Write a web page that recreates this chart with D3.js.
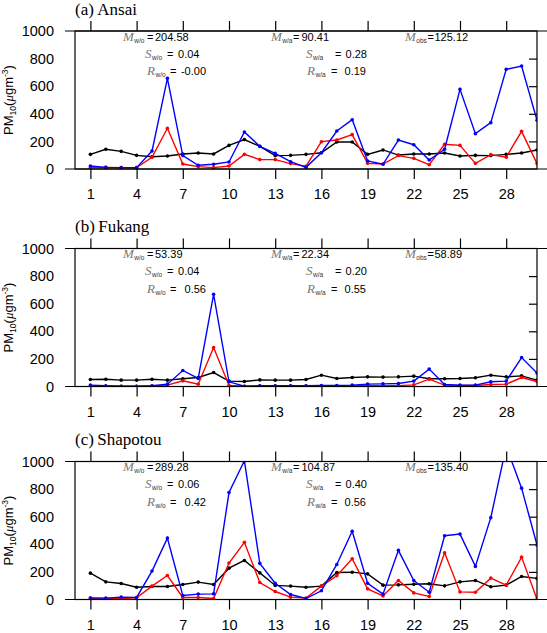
<!DOCTYPE html>
<html>
<head>
<meta charset="utf-8">
<script src="https://cdn.jsdelivr.net/npm/d3@7/dist/d3.min.js"></script>
<style>
body { margin: 0; background: #fff; }
svg text { font-family: "Liberation Sans", Arial, Helvetica, sans-serif; }
</style>
</head>
<body>
<svg id="chart" width="547" height="633"></svg>
<script>
// days of the month (x categories) and tick values
var days = [1,2,3,4,5,6,7,8,9,10,11,12,13,14,15,16,17,18,19,20,21,22,23,24,25,26,27,28,29,30];
var xTicks = [1,4,7,10,13,16,19,22,25,28];
var yTicks = [0,200,400,600,800,1000];
var yInnerTicks = [200,400,600,800];

// (a) Ansai
var ansaiObs = [106,143,128,99,89,94,109,116,109,171,213,164,97,99,106,118,196,196,106,138,101,109,109,116,94,99,97,106,116,138];
var ansaiWO  = [22,12,10,10,130,657,97,27,34,51,268,164,113,53,12,118,275,357,58,34,210,176,65,143,577,256,336,722,746,353];
var ansaiWA  = [10,12,10,10,85,295,36,17,10,22,106,68,68,39,20,198,210,249,41,36,97,77,31,179,171,41,104,85,273,39];
var ansaiStats = ["204.58","0.04","-0.00","90.41","0.28","0.19","125.12"];

// (b) Fukang
var fukangObs = [51,53,46,46,53,46,56,65,101,39,36,48,46,46,51,82,58,65,70,68,70,75,56,56,58,63,82,70,77,46];
var fukangWO  = [10,5,2,2,5,17,116,58,668,34,2,5,5,5,5,7,7,10,17,19,22,39,126,14,10,10,34,39,210,97];
var fukangWA  = [2,2,2,2,3,10,41,17,282,8,2,3,3,3,4,4,4,5,5,5,6,12,53,10,7,7,14,17,65,36];
var fukangStats = ["53.39","0.04","0.56","22.34","0.20","0.55","58.89"];

// (c) Shapotou
var shapotouObs = [191,128,116,89,94,94,109,126,109,227,283,193,102,97,89,97,196,198,186,104,106,111,114,99,128,138,92,104,167,153];
var shapotouWO  = [12,10,17,15,206,445,29,39,41,775,1005,262,118,36,7,63,254,494,118,39,356,138,53,462,474,240,593,1110,807,395];
var shapotouWA  = [7,7,7,12,97,174,15,15,7,264,414,123,58,17,10,97,172,295,77,26,138,48,22,339,55,53,155,104,307,2];
var shapotouStats = ["289.28","0.06","0.42","104.87","0.40","0.56","135.40"];

var panels = [
	{ title: "(a)\u2009Ansai", top: 31, obs: ansaiObs, wo: ansaiWO, wa: ansaiWA, stats: ansaiStats },
	{ title: "(b)\u2009Fukang", top: 248.5, obs: fukangObs, wo: fukangWO, wa: fukangWA, stats: fukangStats },
	{ title: "(c)\u2009Shapotou", top: 461.5, obs: shapotouObs, wo: shapotouWO, wa: shapotouWA, stats: shapotouStats }
];

var svg = d3.select('#chart'),
	left = 75,
	right = 537,
	plotH = 138;

var x = d3.scaleLinear().domain([0, 30]).range([left, right]);

panels.forEach(function(p, i) {
	drawPanel(p, i);
});

function drawPanel(p, i) {
	var top = p.top,
		bottom = top + plotH,
		g = svg.append('g').attr('class', 'panel');

	var y = d3.scaleLinear().domain([0, 1000]).range([bottom, top]);

	// clip so the off-scale peaks get cut at the frame
	svg.append('clipPath').attr('id', 'clip' + i)
		.append('rect')
		.attr('x', left).attr('y', top)
		.attr('width', right - left).attr('height', plotH);

	// title
	g.append('text')
		.attr('x', left)
		.attr('y', top - 16.5)
		.style('font-family', '"Liberation Serif", "Times New Roman", serif')
		.style('font-size', '17px')
		.text(p.title);

	// y axis title
	var yt = g.append('text')
		.attr('transform', 'translate(13,' + (top + plotH / 2) + ') rotate(-90)')
		.attr('text-anchor', 'middle')
		.style('font-size', '13px');
	yt.append('tspan').text('PM');
	yt.append('tspan').attr('dy', 3).style('font-size', '8.5px').text('10');
	yt.append('tspan').attr('dy', -3).text('(');
	yt.append('tspan').style('font-family', '"Liberation Serif", serif').style('font-style', 'italic').text('\u03bc');
	yt.append('tspan').text('gm');
	yt.append('tspan').attr('dy', -5).style('font-size', '8.5px').text('-3');
	yt.append('tspan').attr('dy', 5).text(')');

	// left labels
	var yAxis = g.append('g')
		.attr('transform', 'translate(' + left + ',0)')
		.call(d3.axisLeft(y).tickValues(yTicks).tickSize(0).tickPadding(21).tickFormat(d3.format('d')));
	yAxis.select('.domain').remove();
	yAxis.selectAll('text').style('font-size', '14.5px').style('font-family', '"Liberation Sans", Arial, sans-serif');

	// right inward ticks
	var yRight = g.append('g')
		.attr('transform', 'translate(' + right + ',0)')
		.call(d3.axisLeft(y).tickValues(yInnerTicks).tickSize(8).tickFormat(''));
	yRight.select('.domain').remove();

	// bottom ticks + labels
	var xAxis = g.append('g')
		.attr('transform', 'translate(0,' + bottom + ')')
		.call(d3.axisBottom(x).tickValues(xTicks).tickSize(10).tickPadding(10));
	xAxis.select('.domain').remove();
	xAxis.selectAll('text').style('font-size', '14.5px').style('font-family', '"Liberation Sans", Arial, sans-serif');

	// top ticks
	var xTop = g.append('g')
		.attr('transform', 'translate(0,' + top + ')')
		.call(d3.axisTop(x).tickValues(xTicks).tickSize(10).tickFormat(''));
	xTop.select('.domain').remove();

	g.selectAll('.tick line').attr('stroke', '#000').attr('stroke-width', 1.2);

	// series
	var series = [
		{ vals: p.obs, color: '#000000' },
		{ vals: p.wa, color: '#ff0000' },
		{ vals: p.wo, color: '#0000ff' }
	];
	var line = d3.line()
		.x(function(d, j) { return x(days[j]); })
		.y(function(d) { return y(d); });

	var lines = g.append('g').attr('clip-path', 'url(#clip' + i + ')');
	series.forEach(function(s) {
		lines.append('path')
			.datum(s.vals)
			.attr('fill', 'none')
			.attr('stroke', s.color)
			.attr('stroke-width', 1.4)
			.attr('d', line);
		lines.selectAll(null)
			.data(s.vals)
			.enter().append('circle')
			.attr('cx', function(d, j) { return x(days[j]); })
			.attr('cy', function(d) { return y(d); })
			.attr('r', 1.8)
			.attr('fill', s.color);
	});

	// frame
	g.append('rect')
		.attr('x', left).attr('y', top)
		.attr('width', right - left).attr('height', plotH)
		.attr('fill', 'none').attr('stroke', '#000').attr('stroke-width', 1.2);
	[top, bottom].forEach(function(yy) {
		g.append('line')
			.attr('x1', left - 10).attr('x2', right + 10)
			.attr('y1', yy).attr('y2', yy)
			.attr('stroke', '#000').attr('stroke-width', 1.2);
	});

	// statistics
	var s = p.stats;
	statText(g, 123, 147, 155, top + 9.5, 'M', 'w/o', s[0], 'start');
	statText(g, 145, 167, 199.5, top + 26.5, 'S', 'w/o', s[1], 'end');
	statText(g, 147, 170, 206, top + 44, 'R', 'w/o', s[2], 'end');
	statText(g, 271, 293, 301.5, top + 9.5, 'M', 'w/a', s[3], 'start');
	statText(g, 306, 335, 367, top + 26.5, 'S', 'w/a', s[4], 'end');
	statText(g, 307, 331, 366, top + 44, 'R', 'w/a', s[5], 'end');
	statText(g, 405, 427.5, 434.5, top + 9.5, 'M', 'obs', s[6], 'start');
}

function statText(g, xLetter, xEq, xVal, yy, letter, sub, val, anchor) {
	var t = g.append('text').attr('x', xLetter).attr('y', yy);
	t.append('tspan')
		.style('font-family', '"Liberation Serif", "Times New Roman", serif')
		.style('font-style', 'italic')
		.style('font-size', '13px')
		.attr('fill', '#777')
		.text(letter);
	t.append('tspan')
		.attr('dy', 2)
		.attr('dx', 0.5)
		.style('font-size', '6.5px')
		.attr('fill', '#333')
		.text(sub);
	g.append('text')
		.attr('x', xEq).attr('y', yy)
		.style('font-size', '11px')
		.text('=');
	g.append('text')
		.attr('x', xVal).attr('y', yy)
		.attr('text-anchor', anchor)
		.style('font-size', '11px')
		.text(val);
}
</script>
</body>
</html>
